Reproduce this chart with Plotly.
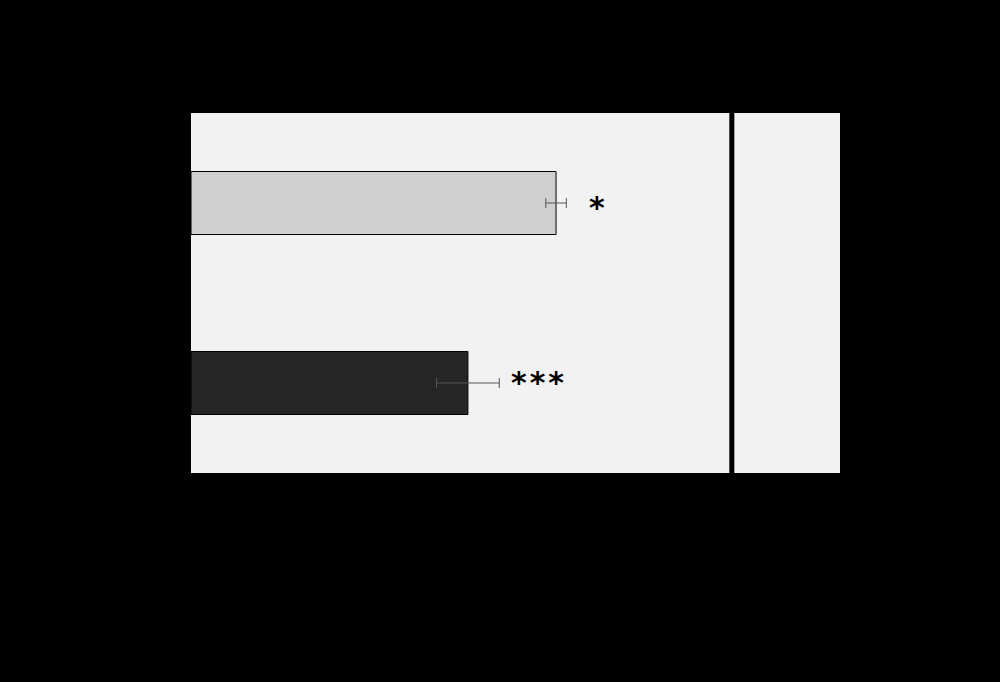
import plotly.graph_objects as go

# values (ratio, reference line at 1)
groups = ["Group A", "Group B"]
ratios = [0.675, 0.512]
errors = [0.019, 0.058]
stars = ["*", "*\u200a*\u200a*"]
bar_colors = ["#d0cfcf", "#262626"]

fig = go.Figure()

fig.add_trace(go.Bar(
    x=ratios,
    y=groups,
    orientation="h",
    width=0.35,
    marker=dict(color=bar_colors, line=dict(color="black", width=1)),
    error_x=dict(type="data", array=errors, color="#555555", thickness=1, width=5),
    showlegend=False,
))

# significance stars just past the error bars
for g, r, e, s, dx, dy in zip(groups, ratios, errors, stars, [21, 10], [-4, 1]):
    fig.add_annotation(
        x=r + e, y=g, text="<b>" + s + "</b>", showarrow=False,
        xanchor="left", xshift=dx, yshift=dy,
        font=dict(size=30, color="black", family="DejaVu Sans"),
    )

# reference line at ratio = 1
fig.add_shape(type="line", x0=1, x1=1, y0=0, y1=1, yref="paper",
              line=dict(color="black", width=5))

fig.update_layout(
    width=1000, height=682,
    margin=dict(l=191, r=160, t=113, b=209),
    paper_bgcolor="black",
    plot_bgcolor="#f2f2f2",
    font=dict(family="DejaVu Sans", color="black", size=14),
    xaxis=dict(range=[0, 1.2], tickvals=[0, 1], showgrid=False, zeroline=False,
               title="Ratio"),
    yaxis=dict(autorange="reversed", showgrid=False, zeroline=False),
)

fig.write_html("out.html", config={"displayModeBar": False},
               post_script="document.body.style.margin='0';"
                           "document.body.style.background='black';")
